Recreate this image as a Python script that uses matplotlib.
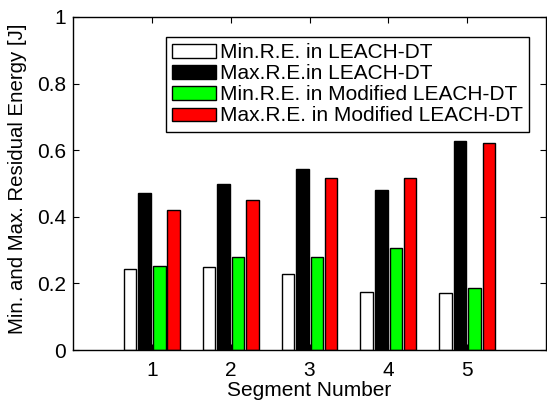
import numpy as np
import matplotlib.pyplot as plt

plt.rcParams['font.family'] = ['Liberation Sans', 'DejaVu Sans']

# residual energy per segment [J]
segments = [1, 2, 3, 4, 5]
min_leach = [0.244, 0.248, 0.229, 0.175, 0.171]
max_leach = [0.472, 0.499, 0.544, 0.481, 0.627]
min_mod = [0.253, 0.278, 0.278, 0.305, 0.187]
max_mod = [0.419, 0.449, 0.516, 0.516, 0.623]
labels = ['Min.R.E. in LEACH-DT', 'Max.R.E.in LEACH-DT',
          'Min.R.E. in Modified LEACH-DT', 'Max.R.E. in Modified LEACH-DT']
colors = ['white', 'black', '#00ff00', 'red']

fig = plt.figure(figsize=(5.47, 4.01), dpi=100)
ax = fig.add_axes([73/547, 51/401, 473/547, 333/401])

x = np.array(segments)
offsets = [-0.275, -0.09, 0.095, 0.275]
w = 0.16
for s, (vals, c, lab) in enumerate(zip([min_leach, max_leach, min_mod, max_mod], colors, labels)):
    ax.bar(x + offsets[s], vals, w, color=c, edgecolor='black', linewidth=1, label=lab)

ax.set_xlim(0, 6)
ax.set_ylim(0, 1)
ax.set_xticks(segments)
ax.set_yticks([0, 0.2, 0.4, 0.6, 0.8, 1])
ax.set_yticklabels(['0', '0.2', '0.4', '0.6', '0.8', '1'])
ax.tick_params(direction='in', top=True, right=True, length=4, labelsize=15, width=0.8, pad=5)
ax.tick_params(axis='x', pad=8)
for sp in ax.spines.values():
    sp.set_linewidth(1)

ax.set_xlabel('Segment Number', fontsize=15, labelpad=1)
ax.set_ylabel('Min. and Max. Residual Energy [J]', fontsize=14.7)
ax.yaxis.set_label_coords(-0.097, 0.515)

leg = ax.legend(loc='upper right', bbox_to_anchor=(0.964, 0.94), fontsize=15,
                fancybox=False, framealpha=1, edgecolor='black',
                handlelength=2.1, handleheight=0.6, labelspacing=0.1,
                handletextpad=0.2, borderpad=0.3, borderaxespad=0)
leg.get_frame().set_linewidth(1)

fig.savefig('out.png', dpi=100)
